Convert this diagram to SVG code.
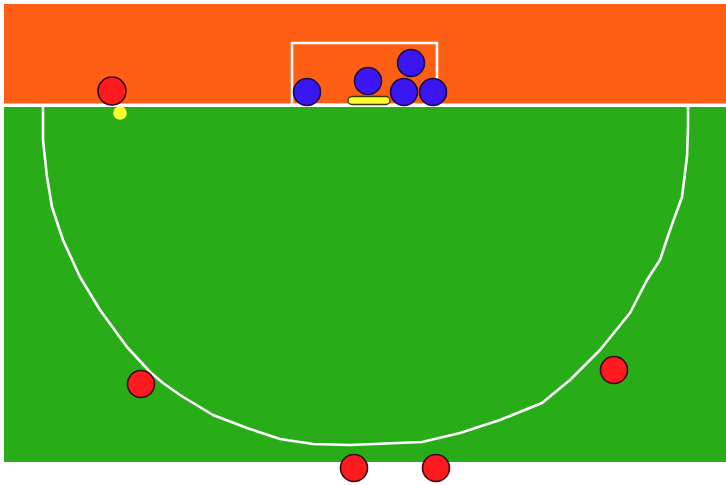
<svg xmlns="http://www.w3.org/2000/svg" width="726" height="485" viewBox="0 0 726 485">
<style>
.red{fill:#FF1A1F;stroke:#3a0a0a;stroke-width:1.6}
.blue{fill:#3A16F2;stroke:#1a0a40;stroke-width:1.6}
.line{fill:none;stroke:#ffffff;stroke-width:2.6;stroke-linejoin:round}
</style>
<rect x="0" y="0" width="726" height="485" fill="#ffffff"/>
<g id="field">
<rect x="4" y="4" width="722" height="99.5" fill="#FF5F14"/>
<rect x="4" y="107" width="722" height="355" fill="#28AD18"/>
<line class="line" x1="4" y1="105.3" x2="726" y2="105.3"/>
<rect id="goal" x="292" y="43" width="145" height="62" class="line" stroke-width="2.5"/>
<path id="arc" class="line" d="M43,107 L43,140 L47,177 L52,207 L63,240 L80,277 L100,310 L127,347 L150,372 L163,383 L180,395 L213,415 L247,428 L280,439 L313,444 L350,445 L422,442 L460,433 L500,420 L542,403 L570,380 L600,350 L630,313 L647,280 L660,260 L670,230 L682,197 L687,157 L688,127 L688,107"/>
</g>
<g id="connectors"></g>
<g id="goalkeeper-bar"><rect x="348" y="96.5" width="42" height="8" rx="4" fill="#FFFF2E" stroke="#3a3a00" stroke-width="1.4"/></g>
<g id="ball"><circle cx="120" cy="113" r="6.8" fill="#FFFF2E"/></g>
<g id="red1"><circle class="red" cx="112" cy="91" r="14"/></g>
<g id="red2"><circle class="red" cx="141" cy="384" r="13.5"/></g>
<g id="red3"><circle class="red" cx="614" cy="370" r="13.5"/></g>
<g id="red4"><circle class="red" cx="354" cy="468" r="13.5"/></g>
<g id="red5"><circle class="red" cx="436" cy="468" r="13.5"/></g>
<g id="blue1"><circle class="blue" cx="307" cy="92" r="13.5"/></g>
<g id="blue2"><circle class="blue" cx="368" cy="81" r="13.5"/></g>
<g id="blue3"><circle class="blue" cx="411" cy="63" r="13.5"/></g>
<g id="blue4"><circle class="blue" cx="404" cy="92" r="13.5"/></g>
<g id="blue5"><circle class="blue" cx="433" cy="92" r="13.5"/></g>
</svg>
